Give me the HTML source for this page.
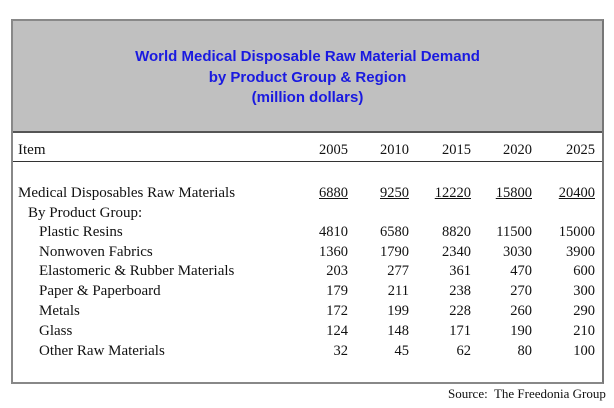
<!DOCTYPE html>
<html><head><style>
body{margin:0;width:614px;height:408px;background:#fff;position:relative;font-family:"Liberation Serif",serif;color:#111;overflow:hidden}
.box{position:absolute;left:11px;top:19px;width:589px;height:361px;border:2px solid #888;border-right-color:#777;box-sizing:content-box}
.hdr{position:absolute;left:0;top:0;width:589px;height:110px;background:#c0c0c0;border-bottom:2px solid #555}
.title{position:absolute;left:0;width:589px;top:26px;text-align:center;color:#1a1ae0;font:bold 15px/20.5px "Liberation Sans",sans-serif}
.line{position:absolute;left:0;width:589px;top:140px;height:1px;background:#333}
.t{position:absolute;font-size:15px;line-height:20px;white-space:nowrap}
.n{position:absolute;font-size:14.5px;line-height:20px;text-align:right;width:60px}
.u{text-decoration:underline}
</style></head><body>
<div class="box">
<div class="hdr"><div class="title">World Medical Disposable Raw Material Demand<br>by Product Group &amp; Region<br>(million dollars)</div></div>
<div class="line"></div>
</div>
<div id="c"></div>
<div class="t" style="left:448px;top:384px;font-size:13px">Source:&nbsp; The Freedonia Group</div>
<script>
var rows=[["Item",140,0,["2005","2010","2015","2020","2025"]],
["Medical Disposables Raw Materials",183,0,["6880","9250","12220","15800","20400"],1],
["By Product Group:",203,10,[]],
["Plastic Resins",222,21,["4810","6580","8820","11500","15000"]],
["Nonwoven Fabrics",242,21,["1360","1790","2340","3030","3900"]],
["Elastomeric &amp; Rubber Materials",261,21,["203","277","361","470","600"]],
["Paper &amp; Paperboard",281,21,["179","211","238","270","300"]],
["Metals",301,21,["172","199","228","260","290"]],
["Glass",321,21,["124","148","171","190","210"]],
["Other Raw Materials",341,21,["32","45","62","80","100"]]];
var r=[348,409,471,532,595],h="";
rows.forEach(function(x){h+='<div class="t" style="left:'+(18+x[2])+'px;top:'+x[1]+'px">'+x[0]+'</div>';
x[3].forEach(function(v,i){h+='<div class="n" style="left:'+(r[i]-60)+'px;top:'+x[1]+'px">'+(x[4]?'<span class="u">'+v+'</span>':v)+'</div>';});});
document.getElementById("c").innerHTML=h;
</script>
</body></html>
